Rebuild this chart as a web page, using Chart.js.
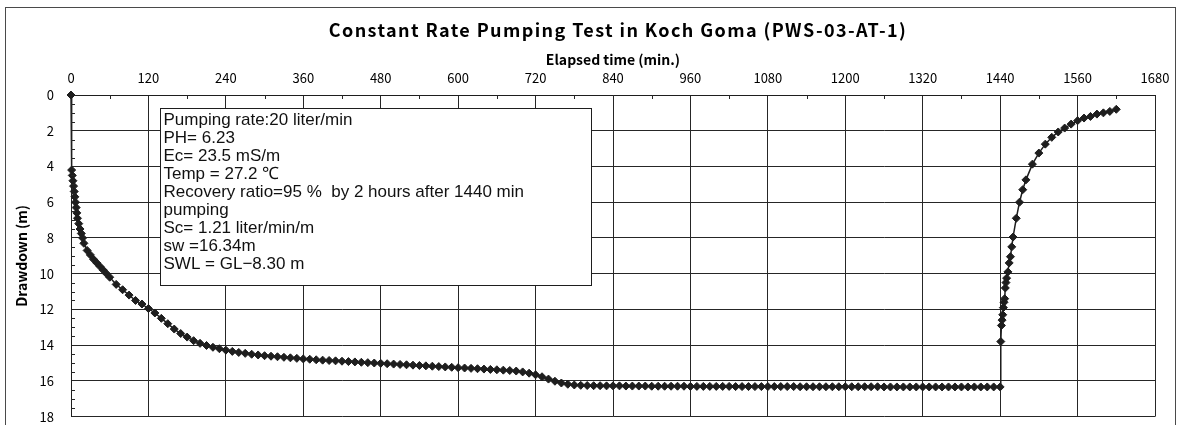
<!DOCTYPE html>
<html>
<head>
<meta charset="utf-8">
<script src="https://cdn.jsdelivr.net/npm/chart.js@4.4.0/dist/chart.umd.min.js"></script>
<style>
  html, body { margin: 0; padding: 0; background: #ffffff; }
  #wrap { width: 1181px; height: 425px; position: relative; }
  canvas { display: block; }
</style>
</head>
<body>
<div id="wrap"><canvas id="c" width="1181" height="425"></canvas></div>
<script>
// ---- Data ----
const chartTitle = 'Constant Rate Pumping Test in Koch Goma (PWS-03-AT-1)';
const xAxisTitle = 'Elapsed time (min.)';
const yAxisTitle = 'Drawdown (m)';

const timeMin = [
  0, 1, 2, 3, 4, 5, 6, 7, 8, 9,
  10, 12, 14, 16, 18, 20, 25, 30, 35, 40,
  45, 50, 55, 60, 70, 80, 90, 100, 110, 120,
  130, 140, 150, 160, 170, 180, 190, 200, 210, 220,
  230, 240, 250, 260, 270, 280, 290, 300, 310, 320,
  330, 340, 350, 360, 370, 380, 390, 400, 410, 420,
  430, 440, 450, 460, 470, 480, 490, 500, 510, 520,
  530, 540, 550, 560, 570, 580, 590, 600, 610, 620,
  630, 640, 650, 660, 670, 680, 690, 700, 710, 720,
  730, 740, 750, 760, 770, 780, 790, 800, 810, 820,
  830, 840, 850, 860, 870, 880, 890, 900, 910, 920,
  930, 940, 950, 960, 970, 980, 990, 1000, 1010, 1020,
  1030, 1040, 1050, 1060, 1070, 1080, 1090, 1100, 1110, 1120,
  1130, 1140, 1150, 1160, 1170, 1180, 1190, 1200, 1210, 1220,
  1230, 1240, 1250, 1260, 1270, 1280, 1290, 1300, 1310, 1320,
  1330, 1340, 1350, 1360, 1370, 1380, 1390, 1400, 1410, 1420,
  1430, 1440,
  1441, 1442, 1443, 1444, 1445, 1446, 1447, 1448, 1449, 1450,
  1452, 1454, 1456, 1458, 1460, 1465, 1470, 1475, 1480, 1490,
  1500, 1510, 1520, 1530, 1540, 1550, 1560, 1570, 1580, 1590,
  1600, 1610, 1620
];

const drawdownM = [
  0, 4.2, 4.5, 4.8, 5.1, 5.4, 5.7, 6.0, 6.3, 6.6,
  6.9, 7.2, 7.5, 7.75, 8.0, 8.3, 8.7, 8.95, 9.2, 9.4,
  9.6, 9.8, 10.0, 10.2, 10.6, 10.9, 11.2, 11.5, 11.7, 11.95,
  12.2, 12.5, 12.8, 13.1, 13.35, 13.55, 13.75, 13.9, 14.02, 14.12,
  14.2, 14.28, 14.35, 14.41, 14.46, 14.51, 14.55, 14.59, 14.62, 14.65,
  14.68, 14.71, 14.74, 14.77, 14.79, 14.82, 14.84, 14.86, 14.88, 14.9,
  14.92, 14.94, 14.96, 14.98, 15.0, 15.02, 15.04, 15.06, 15.08, 15.1,
  15.12, 15.14, 15.16, 15.18, 15.2, 15.22, 15.24, 15.26, 15.28, 15.3,
  15.32, 15.34, 15.36, 15.38, 15.4, 15.42, 15.45, 15.5, 15.57, 15.66,
  15.77, 15.9, 16.02, 16.12, 16.19, 16.23, 16.25, 16.26, 16.27, 16.27,
  16.28, 16.28, 16.28, 16.29, 16.29, 16.29, 16.29, 16.3, 16.3, 16.3,
  16.3, 16.3, 16.3, 16.31, 16.31, 16.31, 16.31, 16.31, 16.31, 16.31,
  16.32, 16.32, 16.32, 16.32, 16.32, 16.32, 16.32, 16.32, 16.32, 16.32,
  16.33, 16.33, 16.33, 16.33, 16.33, 16.33, 16.33, 16.33, 16.33, 16.33,
  16.33, 16.33, 16.33, 16.34, 16.34, 16.34, 16.34, 16.34, 16.34, 16.34,
  16.34, 16.34, 16.34, 16.34, 16.34, 16.34, 16.34, 16.34, 16.34, 16.34,
  16.34, 16.34,
  13.8, 12.9, 12.6, 12.3, 11.9, 11.6, 11.4, 10.8, 10.5, 10.25,
  9.9, 9.4, 9.05, 8.5, 7.95, 6.9, 6.0, 5.3, 4.75, 3.87,
  3.25, 2.75, 2.37, 2.07, 1.85, 1.63, 1.44, 1.29, 1.2, 1.07,
  1.0, 0.92, 0.8
];

const noteLines = [
  'Pumping rate:20 liter/min',
  'PH= 6.23',
  'Ec= 23.5 mS/m',
  'Temp = 27.2 \u2103',
  'Recovery ratio=95 %  by 2 hours after 1440 min',
  'pumping',
  'Sc= 1.21 liter/min/m',
  'sw =16.34m',
  'SWL = GL\u22128.30 m'
];

const xMin = 0, xMax = 1680, xStep = 120, xMinorStep = 60;
const yMin = 0, yMax = 18, yStep = 2, yMinorStep = 0.5;

// ---- Build ----
const points = timeMin.map((t, i) => ({ x: t, y: drawdownM[i] }));

const JP = '"Noto Sans CJK JP", "Noto Sans", sans-serif';
const INK = '#1e1e1e';
const GRID = '#262626';

const framePlugin = {
  id: 'frame',
  beforeDraw(chart) {
    const ctx = chart.ctx;
    ctx.save();
    ctx.fillStyle = '#ffffff';
    ctx.fillRect(0, 0, chart.width, chart.height);
    ctx.strokeStyle = '#4a4a4a';
    ctx.lineWidth = 1;
    ctx.strokeRect(5.5, 7.5, 1170, 440);
    // chart title
    ctx.fillStyle = '#000';
    ctx.font = 'bold 18px ' + JP;
    ctx.textAlign = 'center';
    ctx.textBaseline = 'middle';
    try { ctx.letterSpacing = '1.4px'; } catch (e) {}
    ctx.fillText(chartTitle, 618, 30);
    ctx.restore();
  }
};

const minorTicksPlugin = {
  id: 'minorTicks',
  afterDraw(chart) {
    const ctx = chart.ctx;
    const xs = chart.scales.x, ys = chart.scales.y;
    const a = chart.chartArea;
    ctx.save();
    ctx.strokeStyle = GRID;
    ctx.lineWidth = 1;
    ctx.beginPath();
    for (let v = xMin + xMinorStep; v < xMax; v += xMinorStep) {
      if (v % xStep === 0) continue;
      const px = Math.round(xs.getPixelForValue(v)) + 0.5;
      ctx.moveTo(px, a.top);
      ctx.lineTo(px, a.top + 4);
    }
    for (let v = yMin + yMinorStep; v < yMax; v += yMinorStep) {
      if (Math.abs(v % yStep) < 1e-9) continue;
      const py = Math.round(ys.getPixelForValue(v)) + 0.5;
      ctx.moveTo(a.left, py);
      ctx.lineTo(a.left + 4, py);
    }
    ctx.stroke();
    ctx.restore();
  }
};

const noteBoxPlugin = {
  id: 'noteBox',
  afterDatasetsDraw(chart) {
    const ctx = chart.ctx;
    const a = chart.chartArea;
    const left = Math.round(a.left + 89) + 0.5, top = Math.round(a.top + 13) + 0.5, w = 431, h = 177;
    ctx.save();
    ctx.fillStyle = '#ffffff';
    ctx.fillRect(left, top, w, h);
    ctx.strokeStyle = INK;
    ctx.lineWidth = 1;
    ctx.strokeRect(left, top, w, h);
    ctx.fillStyle = '#111111';
    ctx.font = '17px "Liberation Sans", Arial, sans-serif';
    ctx.textBaseline = 'middle';
    ctx.textAlign = 'left';
    noteLines.forEach((s, i) => {
      ctx.fillText(s, left + 3, top + 11.5 + i * 18.1);
    });
    ctx.restore();
  }
};

new Chart(document.getElementById('c'), {
  type: 'scatter',
  data: {
    datasets: [{
      data: points,
      showLine: true,
      clip: false,
      borderColor: INK,
      borderWidth: 1.5,
      pointStyle: 'rectRot',
      pointRadius: 4,
      pointBorderWidth: 1,
      pointBackgroundColor: INK,
      pointBorderColor: INK,
      tension: 0
    }]
  },
  options: {
    responsive: false,
    animation: false,
    layout: { padding: { left: 0, right: 26, top: 0, bottom: 8.4 } },
    plugins: {
      legend: { display: false },
      tooltip: { enabled: false },
      title: { display: false }
    },
    scales: {
      x: {
        type: 'linear',
        position: 'top',
        min: xMin, max: xMax,
        ticks: {
          stepSize: xStep, color: '#000', font: { family: JP, size: 13 }, padding: 9, maxRotation: 0,
          callback: (v) => String(v)
        },
        grid: { color: GRID, lineWidth: 1, drawTicks: false },
        border: { display: true, color: INK, width: 1 },
        title: {
          display: true, text: xAxisTitle, color: '#000',
          font: { family: JP, size: 14, weight: 'bold', lineHeight: 1.2 },
          padding: { top: 51.6, bottom: 0 }
        },
        afterFit(s) { s.height = 95; }
      },
      y: {
        type: 'linear',
        reverse: true,
        min: yMin, max: yMax,
        ticks: {
          stepSize: yStep, color: '#000', font: { family: JP, size: 13 }, padding: 17,
          callback: (v) => String(v)
        },
        grid: { color: GRID, lineWidth: 1, drawTicks: false },
        border: { display: true, color: INK, width: 1 },
        title: {
          display: true, text: yAxisTitle, color: '#000',
          font: { family: JP, size: 14, weight: 'bold', lineHeight: 1.2 },
          padding: { top: 13.6, bottom: 0 }
        },
        afterFit(s) { s.width = 71; s.paddingTop = 0; s.paddingBottom = 0; }
      }
    }
  },
  plugins: [framePlugin, noteBoxPlugin, minorTicksPlugin]
});
</script>
</body>
</html>
